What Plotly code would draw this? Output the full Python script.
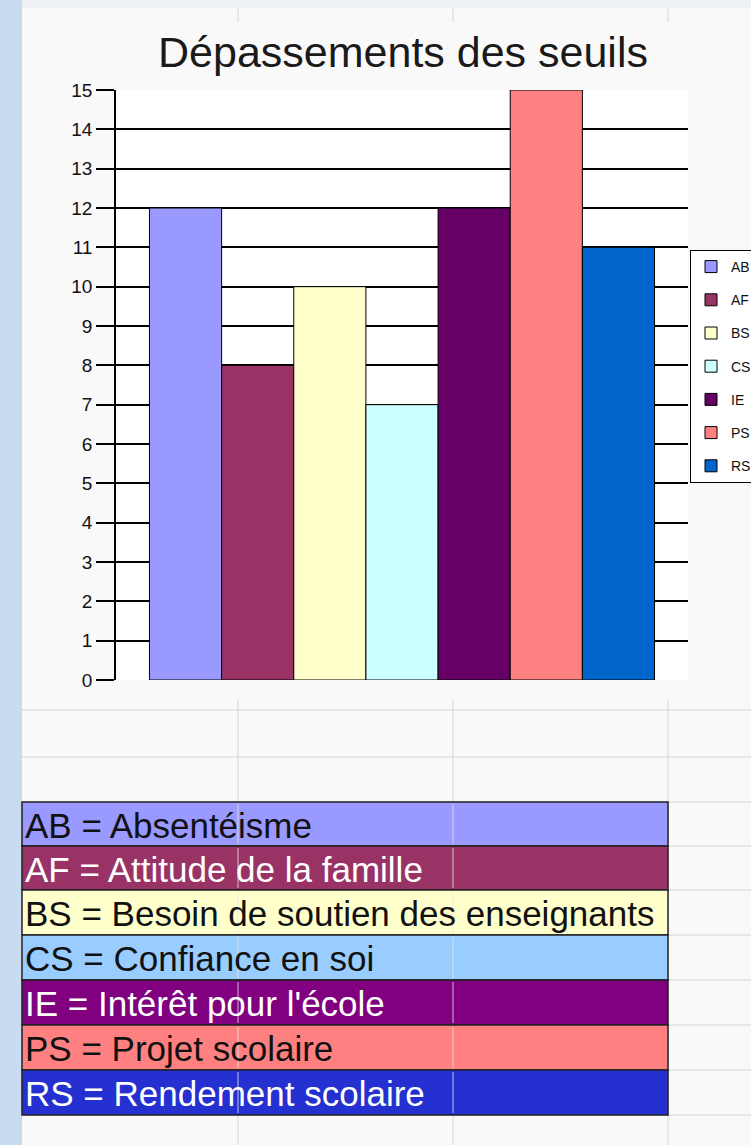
import plotly.graph_objects as go

# ---- data ----
codes = ["AB", "AF", "BS", "CS", "IE", "PS", "RS"]
values = [12, 8, 10, 7, 12, 15, 11]
bar_colors = ["#9999ff", "#993366", "#ffffcc", "#ccffff", "#660066", "#ff8080", "#0066cc"]
definitions = [
    "AB = Absentéisme",
    "AF = Attitude de la famille",
    "BS = Besoin de soutien des enseignants",
    "CS = Confiance en soi",
    "IE = Intérêt pour l'école",
    "PS = Projet scolaire",
    "RS = Rendement scolaire",
]
row_colors = ["#9999ff", "#993366", "#ffffcc", "#99ccff", "#800080", "#ff8080", "#2430d0"]
row_text_colors = ["#111111", "#ffffff", "#111111", "#111111", "#ffffff", "#111111", "#ffffff"]
title = "Dépassements des seuils"
y_ticks = list(range(0, 16))

# ---- geometry (pixels) ----
W, H = 751, 1145
L, R, T, B = 116, 688, 90, 680


def px(x):
    return (x - L) / (R - L)


def py(y):
    return (B - y) / (B - T)


fig = go.Figure()
for c, v, col in zip(codes, values, bar_colors):
    fig.add_trace(go.Bar(
        x=[""], y=[v], name=c, legendgroup=c,
        marker=dict(color=col, line=dict(color="black", width=1)),
    ))

shapes = []
# page background pieces
shapes.append(dict(type="rect", xref="paper", yref="paper", x0=px(0), x1=px(22), y0=py(0), y1=py(H),
                   fillcolor="#c8dbf0", line=dict(width=0), layer="below"))
shapes.append(dict(type="rect", xref="paper", yref="paper", x0=px(22), x1=px(W), y0=py(0), y1=py(8),
                   fillcolor="#eef2f7", line=dict(width=0), layer="below"))
# spreadsheet grid lines
grid_col = "#d4d4d4"
for xv in [238, 453, 668]:
    shapes.append(dict(type="line", xref="paper", yref="paper", x0=px(xv), x1=px(xv), y0=py(700), y1=py(H),
                       line=dict(color=grid_col, width=1), layer="below"))
    shapes.append(dict(type="line", xref="paper", yref="paper", x0=px(xv), x1=px(xv), y0=py(8), y1=py(22),
                       line=dict(color=grid_col, width=1), layer="below"))
for yv in [710, 757, 802, 846, 890, 935, 980, 1025, 1070, 1115]:
    shapes.append(dict(type="line", xref="paper", yref="paper", x0=px(22), x1=px(W), y0=py(yv), y1=py(yv),
                       line=dict(color=grid_col, width=1), layer="below"))

# legend-table rows
row_edges = [802, 846, 890, 935, 980, 1025, 1070, 1115]
annotations = []
for i, (txt, fc, tc) in enumerate(zip(definitions, row_colors, row_text_colors)):
    y0, y1 = row_edges[i], row_edges[i + 1]
    shapes.append(dict(type="rect", xref="paper", yref="paper", x0=px(22), x1=px(668), y0=py(y1), y1=py(y0),
                       fillcolor=fc, line=dict(color="#222222", width=1.5), layer="above"))
    for xv in [238, 453]:
        shapes.append(dict(type="line", xref="paper", yref="paper", x0=px(xv), x1=px(xv),
                           y0=py(y1 - 2), y1=py(y0 + 2),
                           line=dict(color="#e8e8e8", width=1), layer="above", opacity=0.8))
    annotations.append(dict(text=txt, xref="paper", yref="paper", x=px(23), y=py((y0 + y1) / 2 + 1),
                            xanchor="left", yanchor="middle", showarrow=False,
                            font=dict(family="Liberation Sans, Arial", size=35, color=tc)))

fig.update_layout(
    width=W, height=H,
    margin=dict(l=L, r=W - R, t=T, b=H - B, autoexpand=False),
    paper_bgcolor="#f9f9fa", plot_bgcolor="white",
    barmode="group", bargap=0.117, bargroupgap=0,
    title=dict(text=title, x=403 / W, xanchor="center", y=1 - 52 / H, yanchor="middle",
               font=dict(family="Liberation Sans, Arial", size=43, color="#1a1a1a")),
    xaxis=dict(showticklabels=False, showgrid=False, zeroline=False, showline=False, ticks=""),
    yaxis=dict(range=[0, 15], tickvals=y_ticks, ticks="outside", ticklen=18, tickcolor="black", tickwidth=1.5,
               showgrid=True, gridcolor="black", gridwidth=1.5, showline=True, linecolor="black", linewidth=1.5,
               zeroline=False,
               tickfont=dict(family="Liberation Sans, Arial", size=19, color="#111111")),
    legend=dict(x=px(690), y=py(250), xanchor="left", yanchor="top", bgcolor="white",
                bordercolor="black", borderwidth=1, tracegroupgap=12, itemwidth=30,
                font=dict(family="Liberation Sans, Arial", size=14, color="#111111")),
    shapes=shapes, annotations=annotations,
)

fig.write_html("out.html", config={"displayModeBar": False},
               post_script="document.body.style.margin='0';document.body.style.padding='0';")
